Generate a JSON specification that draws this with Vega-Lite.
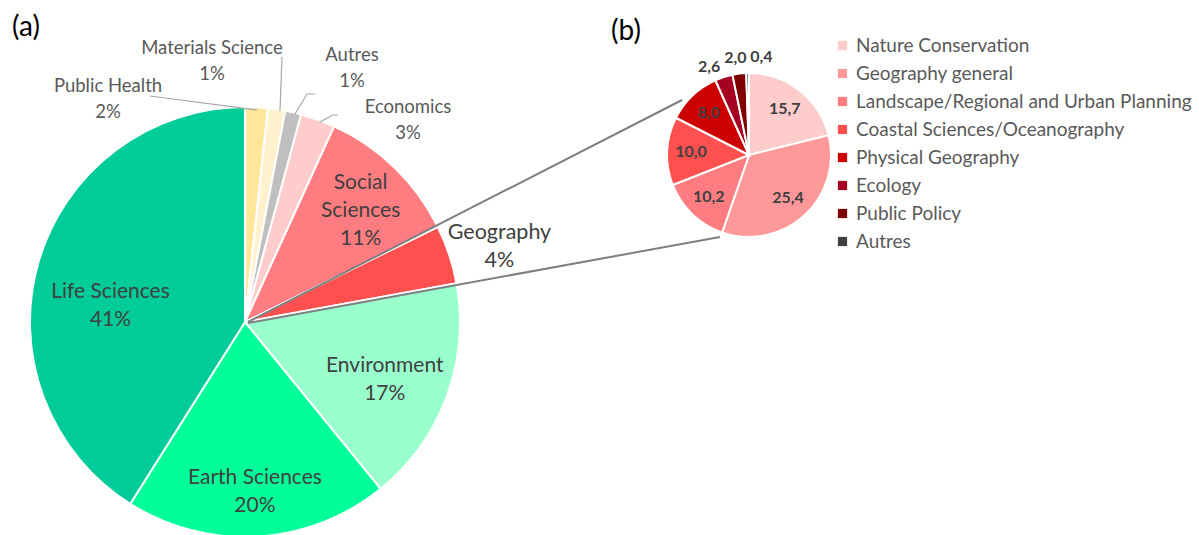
{
  "$schema": "https://vega.github.io/schema/vega-lite/v6.json",
  "width": 1199,
  "height": 535,
  "autosize": {"type": "none"},
  "padding": 0,
  "background": "white",
  "config": {
    "view": {"stroke": null},
    "font": "Lato",
    "locale": {"number": {"decimal": ",", "thousands": ".", "grouping": [3], "currency": ["", " €"]}}
  },
  "datasets": {
    "fields": [
      {"field": "Public Health", "value": 1.7, "rank": 1, "label": "Public Health\n2%"},
      {"field": "Materials Science", "value": 1.3, "rank": 2, "label": "Materials Science\n1%"},
      {"field": "Autres", "value": 1.2, "rank": 3, "label": "Autres\n1%"},
      {"field": "Economics", "value": 2.6, "rank": 4, "label": "Economics\n3%"},
      {"field": "Social Sciences", "value": 10.9, "rank": 5, "label": "Social\nSciences\n11%"},
      {"field": "Geography", "value": 4.4, "rank": 6, "label": "Geography\n4%"},
      {"field": "Environment", "value": 17.0, "rank": 7, "label": "Environment\n17%"},
      {"field": "Earth Sciences", "value": 19.8, "rank": 8, "label": "Earth Sciences\n20%"},
      {"field": "Life Sciences", "value": 41.0, "rank": 9, "label": "Life Sciences\n41%"}
    ],
    "geography": [
      {"sub": "Nature Conservation", "value": 15.7, "rank": 1},
      {"sub": "Geography general", "value": 25.4, "rank": 2},
      {"sub": "Landscape/Regional and Urban Planning", "value": 10.2, "rank": 3},
      {"sub": "Coastal Sciences/Oceanography", "value": 10.0, "rank": 4},
      {"sub": "Physical Geography", "value": 8.0, "rank": 5},
      {"sub": "Ecology", "value": 2.6, "rank": 6},
      {"sub": "Public Policy", "value": 2.0, "rank": 7},
      {"sub": "Autres", "value": 0.4, "rank": 8}
    ],
    "connectors": [
      {"end": "upper", "x0": 248, "y0": 322, "x1": 682, "y1": 100},
      {"end": "lower", "x0": 248, "y0": 323, "x1": 720, "y1": 237}
    ],
    "leaders": [
      {"id": "ph", "k": 1, "lx": 150, "ly": 96},
      {"id": "ph", "k": 2, "lx": 257, "ly": 110},
      {"id": "ms", "k": 1, "lx": 282, "ly": 57},
      {"id": "ms", "k": 2, "lx": 280, "ly": 111},
      {"id": "au", "k": 1, "lx": 315, "ly": 94},
      {"id": "au", "k": 2, "lx": 307, "ly": 94},
      {"id": "au", "k": 3, "lx": 295, "ly": 114},
      {"id": "ec", "k": 1, "lx": 338, "ly": 115},
      {"id": "ec", "k": 2, "lx": 333, "ly": 115},
      {"id": "ec", "k": 3, "lx": 320, "ly": 122}
    ],
    "callouts": [
      {"label": "Public Health\n2%", "tx": 108, "ty": 86},
      {"label": "Materials Science\n1%", "tx": 212, "ty": 48},
      {"label": "Autres\n1%", "tx": 352, "ty": 55},
      {"label": "Economics\n3%", "tx": 408, "ty": 107}
    ],
    "panels": [
      {"panel": "(a)", "tx": 26, "ty": 28},
      {"panel": "(b)", "tx": 626, "ty": 32}
    ]
  },
  "resolve": {
    "scale": {"theta": "independent", "color": "independent"},
    "legend": {"color": "independent"}
  },
  "layer": [
    {
      "data": {"name": "fields"},
      "mark": {"type": "arc", "outerRadius": 215, "stroke": "white", "strokeWidth": 2},
      "encoding": {
        "x": {"datum": 245, "type": "quantitative", "scale": {"domain": [0, 1199], "nice": false, "zero": false}, "axis": null},
        "y": {"datum": 322, "type": "quantitative", "scale": {"domain": [0, 535], "nice": false, "zero": false, "reverse": true}, "axis": null},
        "theta": {"field": "value", "type": "quantitative", "stack": true},
        "order": {"field": "rank", "type": "quantitative"},
        "color": {
          "field": "field", "type": "nominal", "legend": null,
          "scale": {
            "domain": ["Public Health", "Materials Science", "Autres", "Economics", "Social Sciences", "Geography", "Environment", "Earth Sciences", "Life Sciences"],
            "range": ["#FFE699", "#FFF2CC", "#BFBFBF", "#FFCCCC", "#FF7C80", "#FF5050", "#99FFCC", "#00FF99", "#00CC99"]
          }
        }
      }
    },
    {
      "data": {"name": "fields"},
      "mark": {"type": "text", "radius": 166, "dy": -10, "fontSize": 21, "color": "#404040", "lineBreak": "\n", "lineHeight": 28, "align": "center", "baseline": "middle"},
      "encoding": {
        "x": {"datum": 245, "type": "quantitative", "scale": {"domain": [0, 1199], "nice": false, "zero": false}, "axis": null},
        "y": {"datum": 322, "type": "quantitative", "scale": {"domain": [0, 535], "nice": false, "zero": false, "reverse": true}, "axis": null},
        "theta": {"field": "value", "type": "quantitative", "stack": true},
        "order": {"field": "rank", "type": "quantitative"},
        "detail": {"field": "field", "type": "nominal"},
        "text": {"field": "label", "type": "nominal", "condition": {"test": "datum.field !== 'Earth Sciences'", "value": ""}}
      }
    },
    {
      "data": {"name": "fields"},
      "mark": {"type": "text", "radius": 166, "dy": -20, "fontSize": 21, "color": "#404040", "lineBreak": "\n", "lineHeight": 28, "align": "center", "baseline": "middle"},
      "encoding": {
        "x": {"datum": 245, "type": "quantitative", "scale": {"domain": [0, 1199], "nice": false, "zero": false}, "axis": null},
        "y": {"datum": 322, "type": "quantitative", "scale": {"domain": [0, 535], "nice": false, "zero": false, "reverse": true}, "axis": null},
        "theta": {"field": "value", "type": "quantitative", "stack": true},
        "order": {"field": "rank", "type": "quantitative"},
        "detail": {"field": "field", "type": "nominal"},
        "text": {"field": "label", "type": "nominal", "condition": {"test": "datum.field !== 'Social Sciences'", "value": ""}}
      }
    },
    {
      "data": {"name": "fields"},
      "mark": {"type": "text", "radius": 149, "dy": -8, "fontSize": 21, "color": "#404040", "lineBreak": "\n", "lineHeight": 28, "align": "center", "baseline": "middle"},
      "encoding": {
        "x": {"datum": 245, "type": "quantitative", "scale": {"domain": [0, 1199], "nice": false, "zero": false}, "axis": null},
        "y": {"datum": 322, "type": "quantitative", "scale": {"domain": [0, 535], "nice": false, "zero": false, "reverse": true}, "axis": null},
        "theta": {"field": "value", "type": "quantitative", "stack": true},
        "order": {"field": "rank", "type": "quantitative"},
        "detail": {"field": "field", "type": "nominal"},
        "text": {"field": "label", "type": "nominal", "condition": {"test": "datum.field !== 'Environment'", "value": ""}}
      }
    },
    {
      "data": {"name": "fields"},
      "mark": {"type": "text", "radius": 140, "dy": 9, "fontSize": 21, "color": "#404040", "lineBreak": "\n", "lineHeight": 28, "align": "center", "baseline": "middle"},
      "encoding": {
        "x": {"datum": 245, "type": "quantitative", "scale": {"domain": [0, 1199], "nice": false, "zero": false}, "axis": null},
        "y": {"datum": 322, "type": "quantitative", "scale": {"domain": [0, 535], "nice": false, "zero": false, "reverse": true}, "axis": null},
        "theta": {"field": "value", "type": "quantitative", "stack": true},
        "order": {"field": "rank", "type": "quantitative"},
        "detail": {"field": "field", "type": "nominal"},
        "text": {"field": "label", "type": "nominal", "condition": {"test": "datum.field !== 'Life Sciences'", "value": ""}}
      }
    },
    {
      "data": {"name": "fields"},
      "mark": {"type": "text", "radius": 268, "dy": -5, "fontSize": 21.5, "color": "#404040", "lineBreak": "\n", "lineHeight": 28, "align": "center", "baseline": "middle"},
      "encoding": {
        "x": {"datum": 245, "type": "quantitative", "scale": {"domain": [0, 1199], "nice": false, "zero": false}, "axis": null},
        "y": {"datum": 322, "type": "quantitative", "scale": {"domain": [0, 535], "nice": false, "zero": false, "reverse": true}, "axis": null},
        "theta": {"field": "value", "type": "quantitative", "stack": true},
        "order": {"field": "rank", "type": "quantitative"},
        "detail": {"field": "field", "type": "nominal"},
        "text": {"field": "label", "type": "nominal", "condition": {"test": "datum.field !== 'Geography'", "value": ""}}
      }
    },
    {
      "data": {"name": "leaders"},
      "mark": {"type": "line", "color": "#A6A6A6", "strokeWidth": 1.2},
      "encoding": {
        "x": {"field": "lx", "type": "quantitative", "scale": {"domain": [0, 1199], "nice": false, "zero": false}, "axis": null},
        "y": {"field": "ly", "type": "quantitative", "scale": {"domain": [0, 535], "nice": false, "zero": false, "reverse": true}, "axis": null},
        "detail": {"field": "id", "type": "nominal"},
        "order": {"field": "k", "type": "quantitative"}
      }
    },
    {
      "data": {"name": "callouts"},
      "mark": {"type": "text", "fontSize": 18.5, "color": "#595959", "lineBreak": "\n", "lineHeight": 25.5, "align": "center", "baseline": "middle"},
      "encoding": {
        "x": {"field": "tx", "type": "quantitative", "scale": {"domain": [0, 1199], "nice": false, "zero": false}, "axis": null},
        "y": {"field": "ty", "type": "quantitative", "scale": {"domain": [0, 535], "nice": false, "zero": false, "reverse": true}, "axis": null},
        "text": {"field": "label", "type": "nominal"}
      }
    },
    {
      "data": {"name": "geography"},
      "mark": {"type": "arc", "outerRadius": 82, "stroke": "white", "strokeWidth": 2},
      "encoding": {
        "x": {"datum": 749, "type": "quantitative", "scale": {"domain": [0, 1199], "nice": false, "zero": false}, "axis": null},
        "y": {"datum": 155, "type": "quantitative", "scale": {"domain": [0, 535], "nice": false, "zero": false, "reverse": true}, "axis": null},
        "theta": {"field": "value", "type": "quantitative", "stack": true},
        "order": {"field": "rank", "type": "quantitative"},
        "color": {
          "field": "sub", "type": "nominal",
          "scale": {
            "domain": ["Nature Conservation", "Geography general", "Landscape/Regional and Urban Planning", "Coastal Sciences/Oceanography", "Physical Geography", "Ecology", "Public Policy", "Autres"],
            "range": ["#FFCCCC", "#FF9999", "#FF7C80", "#FF5050", "#CC0000", "#A50021", "#800000", "#404040"]
          },
          "legend": {
            "title": null, "orient": "none", "legendX": 833, "legendY": 36,
            "symbolType": "square", "symbolSize": 85, "symbolStrokeWidth": 0,
            "labelFontSize": 19, "labelColor": "#595959", "labelOffset": 4,
            "rowPadding": 8, "padding": 0, "labelLimit": 400
          }
        }
      }
    },
    {
      "data": {"name": "geography"},
      "mark": {"type": "text", "radius": 58, "fontSize": 16, "fontWeight": "bold", "color": "#404040", "align": "center", "baseline": "middle"},
      "encoding": {
        "x": {"datum": 749, "type": "quantitative", "scale": {"domain": [0, 1199], "nice": false, "zero": false}, "axis": null},
        "y": {"datum": 155, "type": "quantitative", "scale": {"domain": [0, 535], "nice": false, "zero": false, "reverse": true}, "axis": null},
        "theta": {"field": "value", "type": "quantitative", "stack": true},
        "order": {"field": "rank", "type": "quantitative"},
        "detail": {"field": "sub", "type": "nominal"},
        "text": {"field": "value", "type": "quantitative", "format": ".1f", "condition": {"test": "datum.value < 5", "value": ""}}
      }
    },
    {
      "data": {"name": "geography"},
      "mark": {"type": "text", "radius": 93, "fontSize": 16, "fontWeight": "bold", "color": "#404040", "align": "right", "baseline": "middle"},
      "encoding": {
        "x": {"datum": 749, "type": "quantitative", "scale": {"domain": [0, 1199], "nice": false, "zero": false}, "axis": null},
        "y": {"datum": 155, "type": "quantitative", "scale": {"domain": [0, 535], "nice": false, "zero": false, "reverse": true}, "axis": null},
        "theta": {"field": "value", "type": "quantitative", "stack": true},
        "order": {"field": "rank", "type": "quantitative"},
        "detail": {"field": "sub", "type": "nominal"},
        "text": {"field": "value", "type": "quantitative", "format": ".1f", "condition": {"test": "datum.sub !== 'Ecology'", "value": ""}}
      }
    },
    {
      "data": {"name": "geography"},
      "mark": {"type": "text", "radius": 98, "dx": -2, "fontSize": 16, "fontWeight": "bold", "color": "#404040", "align": "center", "baseline": "middle"},
      "encoding": {
        "x": {"datum": 749, "type": "quantitative", "scale": {"domain": [0, 1199], "nice": false, "zero": false}, "axis": null},
        "y": {"datum": 155, "type": "quantitative", "scale": {"domain": [0, 535], "nice": false, "zero": false, "reverse": true}, "axis": null},
        "theta": {"field": "value", "type": "quantitative", "stack": true},
        "order": {"field": "rank", "type": "quantitative"},
        "detail": {"field": "sub", "type": "nominal"},
        "text": {"field": "value", "type": "quantitative", "format": ".1f", "condition": {"test": "datum.sub !== 'Public Policy'", "value": ""}}
      }
    },
    {
      "data": {"name": "geography"},
      "mark": {"type": "text", "radius": 98, "dx": 3, "fontSize": 16, "fontWeight": "bold", "color": "#404040", "align": "left", "baseline": "middle"},
      "encoding": {
        "x": {"datum": 749, "type": "quantitative", "scale": {"domain": [0, 1199], "nice": false, "zero": false}, "axis": null},
        "y": {"datum": 155, "type": "quantitative", "scale": {"domain": [0, 535], "nice": false, "zero": false, "reverse": true}, "axis": null},
        "theta": {"field": "value", "type": "quantitative", "stack": true},
        "order": {"field": "rank", "type": "quantitative"},
        "detail": {"field": "sub", "type": "nominal"},
        "text": {"field": "value", "type": "quantitative", "format": ".1f", "condition": {"test": "datum.sub !== 'Autres'", "value": ""}}
      }
    },
    {
      "data": {"name": "connectors"},
      "mark": {"type": "rule", "color": "#7F7F7F", "strokeWidth": 2},
      "encoding": {
        "x": {"field": "x0", "type": "quantitative", "scale": {"domain": [0, 1199], "nice": false, "zero": false}, "axis": null},
        "y": {"field": "y0", "type": "quantitative", "scale": {"domain": [0, 535], "nice": false, "zero": false, "reverse": true}, "axis": null},
        "x2": {"field": "x1"},
        "y2": {"field": "y1"}
      }
    },
    {
      "data": {"name": "panels"},
      "mark": {"type": "text", "fontSize": 28, "color": "#000000", "align": "center", "baseline": "middle"},
      "encoding": {
        "x": {"field": "tx", "type": "quantitative", "scale": {"domain": [0, 1199], "nice": false, "zero": false}, "axis": null},
        "y": {"field": "ty", "type": "quantitative", "scale": {"domain": [0, 535], "nice": false, "zero": false, "reverse": true}, "axis": null},
        "text": {"field": "panel", "type": "nominal"}
      }
    }
  ]
}
